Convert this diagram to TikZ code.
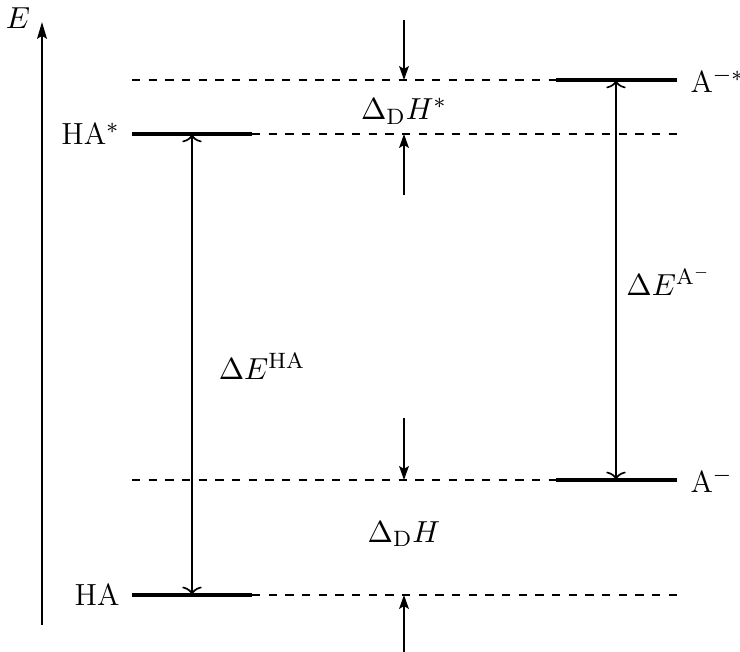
\documentclass[tikz,border=0pt]{standalone}
\usetikzlibrary{arrows.meta}
\begin{document}
\begin{tikzpicture}[x=0.36pt,y=-0.36pt,
  every node/.style={font=\fontsize{11}{13.5}\selectfont},
  level/.style={line width=1.4pt},
  guide/.style={dashed,semithick},
  dimarrow/.style={semithick,-{Stealth[length=5pt,width=3.5pt,inset=1pt]}},
  gap/.style={semithick,{To[length=3pt,width=7pt]}-{To[length=3pt,width=7pt]}},
  axis/.style={thick,-{Stealth[length=6pt,width=3.5pt,inset=1pt]}}]
\useasboundingbox (0,0) rectangle (740,652);
% axis
\coordinate (axb) at (42,625);
\coordinate (axt) at (42,22);
\draw[axis] (axb) -- (axt);
\node (E) at (18,18) {$E$};
% level endpoints
\coordinate (hasL) at (132,134); \coordinate (hasR) at (252,134);
\coordinate (haL) at (132,595);  \coordinate (haR) at (252,595);
\coordinate (asL) at (556,80);   \coordinate (asR) at (677,80);
\coordinate (aL) at (556,480);   \coordinate (aR) at (677,480);
\coordinate (dsL) at (132,80);
\coordinate (dhsR) at (677,134);
\coordinate (daL) at (132,480);
\coordinate (dhR) at (677,595);
% dashed guides
\draw[guide] (dsL) -- (asL);
\draw[guide] (hasR) -- (dhsR);
\draw[guide] (daL) -- (aL);
\draw[guide] (haR) -- (dhR);
% levels
\draw[level] (hasL) -- (hasR);
\draw[level] (haL) -- (haR);
\draw[level] (asL) -- (asR);
\draw[level] (aL) -- (aR);
% labels of levels
\node[anchor=east,inner sep=0pt] (lHAs) at (120,134) {HA$^{*}$};
\node[anchor=east,inner sep=0pt] (lHA) at (120,595) {HA};
\node[anchor=west,inner sep=0pt] (lAs) at (690,80) {A$^{-*}$};
\node[anchor=west,inner sep=0pt] (lA) at (690,480) {A$^{-}$};
% double arrows
\coordinate (g1t) at (192,134); \coordinate (g1b) at (192,595);
\coordinate (g2t) at (616,80);  \coordinate (g2b) at (616,480);
\draw[gap] (g1t) -- (g1b);
\draw[gap] (g2t) -- (g2b);
\node (lEHA) at (262,366) {$\Delta E^{\mathrm{HA}}$};
\node (lEA) at (669,281) {$\Delta E^{\mathrm{A}^-}$};
% dissociation enthalpy arrows
\coordinate (d1a) at (404,20);  \coordinate (d1b) at (404,80);
\coordinate (d2a) at (404,195); \coordinate (d2b) at (404,134);
\coordinate (d3a) at (404,418); \coordinate (d3b) at (404,480);
\coordinate (d4a) at (404,652); \coordinate (d4b) at (404,595);
\draw[dimarrow] (d1a) -- (d1b);
\draw[dimarrow] (d2a) -- (d2b);
\draw[dimarrow] (d3a) -- (d3b);
\draw[dimarrow] (d4a) -- (d4b);
\node (lDHs) at (404,111) {$\Delta_{\mathrm{D}}H^{*}$};
\node (lDH) at (404,534) {$\Delta_{\mathrm{D}}H$};
\end{tikzpicture}
\end{document}
